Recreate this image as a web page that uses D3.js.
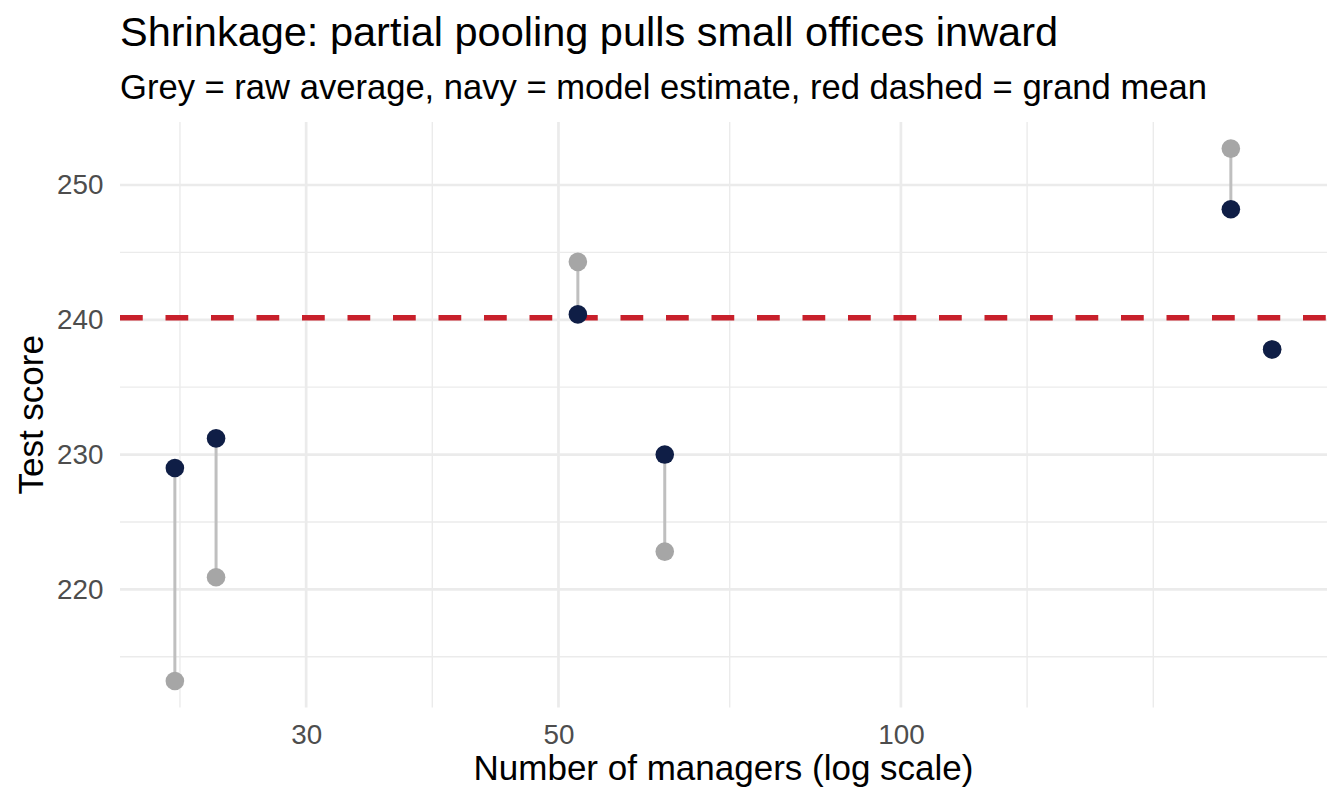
<!DOCTYPE html>
<html lang="en">
<head>
    <meta charset="UTF-8">
    <title>Shrinkage chart</title>
    <script src="https://d3js.org/d3.v7.min.js"></script>
    <style>
        body { margin: 0; background: #fff; }
        text { font-family: "Liberation Sans", Arial, Helvetica, sans-serif; }
    </style>
</head>
<body>
    <svg width="1344" height="806"></svg>

    <script>
        // offices, ordered by number of managers
        const managers = [23, 25, 52, 62, 195, 212];
        const rawAvg   = [213.2, 220.9, 244.3, 222.8, 252.7, 237.8];
        const modelEst = [229.0, 231.2, 240.4, 230.0, 248.2, 237.8];
        const grandMean = 240.15;

        const xTicks = [30, 50, 100];
        const yTicks = [220, 230, 240, 250];
        const yMinor = [215, 225, 235, 245];

        const title = "Shrinkage: partial pooling pulls small offices inward";
        const subtitle = "Grey = raw average, navy = model estimate, red dashed = grand mean";
        const xname = "Number of managers (log scale)";
        const yname = "Test score";

        function draw() {
            const data = managers.map(function(m, i) {
                return {n: m, raw: rawAvg[i], est: modelEst[i]};
            });

            var pl = 120, pr = 1327, pt = 122, pb = 707.6;

            // ggplot style 5% expansion, on the log scale for x
            var lx = d3.extent(managers).map(Math.log10);
            var ex = (lx[1] - lx[0]) * 0.05;
            var xs = d3.scaleLog()
                .domain([Math.pow(10, lx[0] - ex), Math.pow(10, lx[1] + ex)])
                .range([pl, pr]);

            var ly = d3.extent(rawAvg.concat(modelEst));
            var ey = (ly[1] - ly[0]) * 0.05;
            var ys = d3.scaleLinear().domain([ly[0] - ey, ly[1] + ey]).range([pb, pt]);

            // minor x breaks halfway between majors (log space), extended by the first step
            var lb = xTicks.map(Math.log10);
            var step = lb[1] - lb[0];
            lb = [lb[0] - step].concat(lb, [lb[lb.length - 1] + step]);
            var xMinor = [];
            for (var i = 0; i < lb.length - 1; i++) {
                xMinor.push(Math.pow(10, (lb[i] + lb[i + 1]) / 2));
            }
            xMinor.push(Math.pow(10, lb[lb.length - 1]));
            xMinor = xMinor.filter(function(v) {
                return v > xs.domain()[0] && v < xs.domain()[1];
            });

            var svg = d3.select('svg');
            var grid = svg.append('g');

            grid.selectAll('.xminor').data(xMinor).enter().append('line')
                .attr('x1', d => xs(d)).attr('x2', d => xs(d))
                .attr('y1', pt).attr('y2', pb)
                .attr('stroke', '#ebebeb').attr('stroke-width', 1.4);

            grid.selectAll('.yminor').data(yMinor).enter().append('line')
                .attr('x1', pl).attr('x2', pr)
                .attr('y1', d => ys(d)).attr('y2', d => ys(d))
                .attr('stroke', '#ebebeb').attr('stroke-width', 1.4);

            grid.selectAll('.xmajor').data(xTicks).enter().append('line')
                .attr('x1', d => xs(d)).attr('x2', d => xs(d))
                .attr('y1', pt).attr('y2', pb)
                .attr('stroke', '#ebebeb').attr('stroke-width', 2.7);

            grid.selectAll('.ymajor').data(yTicks).enter().append('line')
                .attr('x1', pl).attr('x2', pr)
                .attr('y1', d => ys(d)).attr('y2', d => ys(d))
                .attr('stroke', '#ebebeb').attr('stroke-width', 2.7);

            // grand mean
            svg.append('line')
                .attr('x1', pl).attr('x2', pr)
                .attr('y1', ys(grandMean)).attr('y2', ys(grandMean))
                .attr('stroke', '#c8202b')
                .attr('stroke-width', 5.7)
                .attr('stroke-dasharray', '22.75,22.75');

            // raw -> model segments
            svg.append('g').selectAll('line').data(data).enter().append('line')
                .attr('x1', d => xs(d.n)).attr('x2', d => xs(d.n))
                .attr('y1', d => ys(d.raw)).attr('y2', d => ys(d.est))
                .attr('stroke', '#bfbfbf').attr('stroke-width', 3);

            svg.append('g').selectAll('circle').data(data).enter().append('circle')
                .attr('cx', d => xs(d.n)).attr('cy', d => ys(d.raw))
                .attr('r', 9.3).attr('fill', '#a6a6a6');

            svg.append('g').selectAll('circle').data(data).enter().append('circle')
                .attr('cx', d => xs(d.n)).attr('cy', d => ys(d.est))
                .attr('r', 9.3).attr('fill', '#0f1e46');

            // axes, no lines, just labels
            var xa = svg.append('g')
                .attr('transform', 'translate(0,' + pb + ')')
                .call(d3.axisBottom(xs).tickValues(xTicks).tickFormat(d3.format('d')).tickSize(0).tickPadding(16.5));
            var ya = svg.append('g')
                .attr('transform', 'translate(' + pl + ',0)')
                .call(d3.axisLeft(ys).tickValues(yTicks).tickSize(0).tickPadding(16.5));
            [xa, ya].forEach(function(a) {
                a.select('.domain').remove();
                a.selectAll('text')
                    .attr('fill', '#4d4d4d')
                    .style('font-size', '27.8px')
                    .style('font-family', '"Liberation Sans", Arial, Helvetica, sans-serif');
            });

            svg.append('text')
                .attr('x', (pl + pr) / 2).attr('y', 780)
                .attr('text-anchor', 'middle')
                .style('font-size', '35px')
                .text(xname);

            svg.append('text')
                .attr('transform', 'translate(42.7,' + ((pt + pb) / 2) + ') rotate(-90)')
                .attr('text-anchor', 'middle')
                .style('font-size', '35px')
                .text(yname);

            svg.append('text')
                .attr('x', pl).attr('y', 46)
                .style('font-size', '41.5px')
                .text(title);

            svg.append('text')
                .attr('x', pl).attr('y', 99)
                .style('font-size', '34.6px')
                .text(subtitle);
        }

        draw();
    </script>
</body>
</html>
